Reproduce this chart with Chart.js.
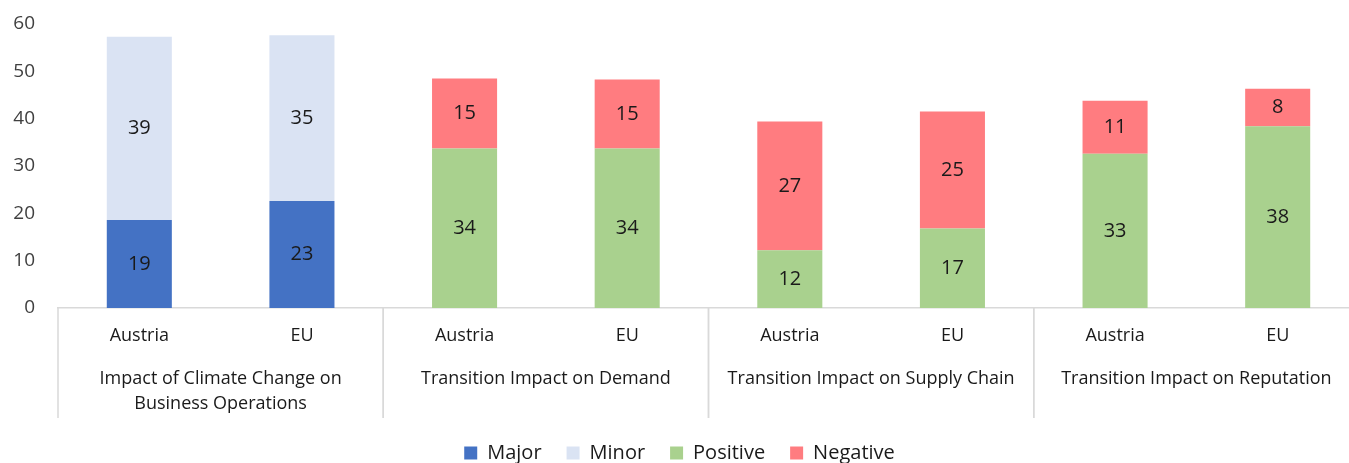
<!DOCTYPE html>
<html>
<head>
<meta charset="utf-8">
<script src="https://cdn.jsdelivr.net/npm/chart.js@4.4.1/dist/chart.umd.min.js"></script>
<style>
  html, body { margin: 0; padding: 0; overflow: hidden; background: #fff; }
  #wrap { width: 1360px; height: 473px; position: relative; }
</style>
</head>
<body>
<div id="wrap"><canvas id="climate-Chart"></canvas></div>
<script>
const labels = ["Austria", "EU", "Austria", "EU", "Austria", "EU", "Austria", "EU"];
const groups = [
  ["Impact of Climate Change on", "Business Operations"],
  ["Transition Impact on Demand"],
  ["Transition Impact on Supply Chain"],
  ["Transition Impact on Reputation"],
];
const major = [18.6, 22.6, null, null, null, null, null, null];
const minor = [38.7, 35.0, null, null, null, null, null, null];
const positive = [null, null, 33.7, 33.7, 12.2, 16.8, 32.6, 38.4];
const negative = [null, null, 14.8, 14.6, 27.2, 24.7, 11.2, 7.9];

Chart.defaults.font.family = "'Open Sans', sans-serif";
Chart.defaults.font.size = 18;
Chart.defaults.color = "#404040";

// value labels in the middle of each bar piece
const valueLabels = {
  id: "valueLabels",
  afterDatasetsDraw(chart) {
    const ctx = chart.ctx;
    ctx.save();
    ctx.font = "20px 'Open Sans', sans-serif";
    ctx.fillStyle = "#1a1a1a";
    ctx.textAlign = "center";
    ctx.textBaseline = "middle";
    chart.data.datasets.forEach((ds, i) => {
      chart.getDatasetMeta(i).data.forEach((bar, j) => {
        const v = ds.data[j];
        if (v == null) return;
        const p = bar.getProps(["x", "y", "base"], true);
        ctx.fillText(Math.round(v), p.x, (p.y + p.base) / 2);
      });
    });
    ctx.restore();
  },
};

// second level of the category axis, with separators
const groupAxis = {
  id: "groupAxis",
  afterDraw(chart) {
    const ctx = chart.ctx;
    const x = chart.scales.x;
    const half = (x.getPixelForValue(1) - x.getPixelForValue(0)) / 2;
    ctx.save();
    ctx.strokeStyle = "#d9d9d9";
    ctx.lineWidth = 1.5;
    ctx.font = "18px 'Open Sans', sans-serif";
    ctx.fillStyle = "#1a1a1a";
    ctx.textAlign = "center";
    ctx.textBaseline = "middle";
    groups.forEach((lines, g) => {
      const left = x.getPixelForValue(g * 2) - half;
      const right = x.getPixelForValue(g * 2 + 1) + half;
      ctx.beginPath();
      ctx.moveTo(left, x.top);
      ctx.lineTo(left, x.bottom);
      ctx.moveTo(right, x.top);
      ctx.lineTo(right, x.bottom);
      ctx.stroke();
      lines.forEach((t, k) => {
        ctx.fillText(t, (left + right) / 2, x.top + 71 + k * 25);
      });
    });
    ctx.restore();
  },
};

const data = {
  labels: labels,
  datasets: [
    { label: "Major", data: major, backgroundColor: "#4472C4" },
    { label: "Minor", data: minor, backgroundColor: "#DAE3F3" },
    { label: "Positive", data: positive, backgroundColor: "#A9D18E" },
    { label: "Negative", data: negative, backgroundColor: "#FF7C80" },
  ],
};

const config = {
  type: "bar",
  data: data,
  plugins: [valueLabels, groupAxis],
  options: {
    responsive: true,
    maintainAspectRatio: false,
    animation: false,
    datasets: { bar: { categoryPercentage: 1, barPercentage: 0.4, skipNull: false } },
    layout: { padding: { top: 24, left: 0, right: 1, bottom: 0 } },
    scales: {
      x: {
        stacked: true,
        grid: { display: false },
        border: { color: "#d9d9d9", width: 1.5 },
        ticks: { padding: 9, color: "#1a1a1a", maxRotation: 0, autoSkip: false },
        afterFit(scale) { scale.height = 110; },
      },
      y: {
        stacked: true,
        min: 0,
        max: 60,
        grid: { display: false, drawTicks: false },
        border: { display: false },
        ticks: { stepSize: 10, padding: 23, font: { size: 19 } },
        afterFit(scale) {
          scale.width = 58;
          scale.paddingTop = 0;
          scale.paddingBottom = 0;
        },
      },
    },
    plugins: {
      tooltip: { enabled: false },
      legend: {
        position: "bottom",
        labels: { boxWidth: 13, boxHeight: 13, padding: 25, color: "#1a1a1a", font: { size: 20 } },
      },
    },
  },
};

let myChart = new Chart(document.getElementById("climate-Chart"), config);
</script>
</body>
</html>
